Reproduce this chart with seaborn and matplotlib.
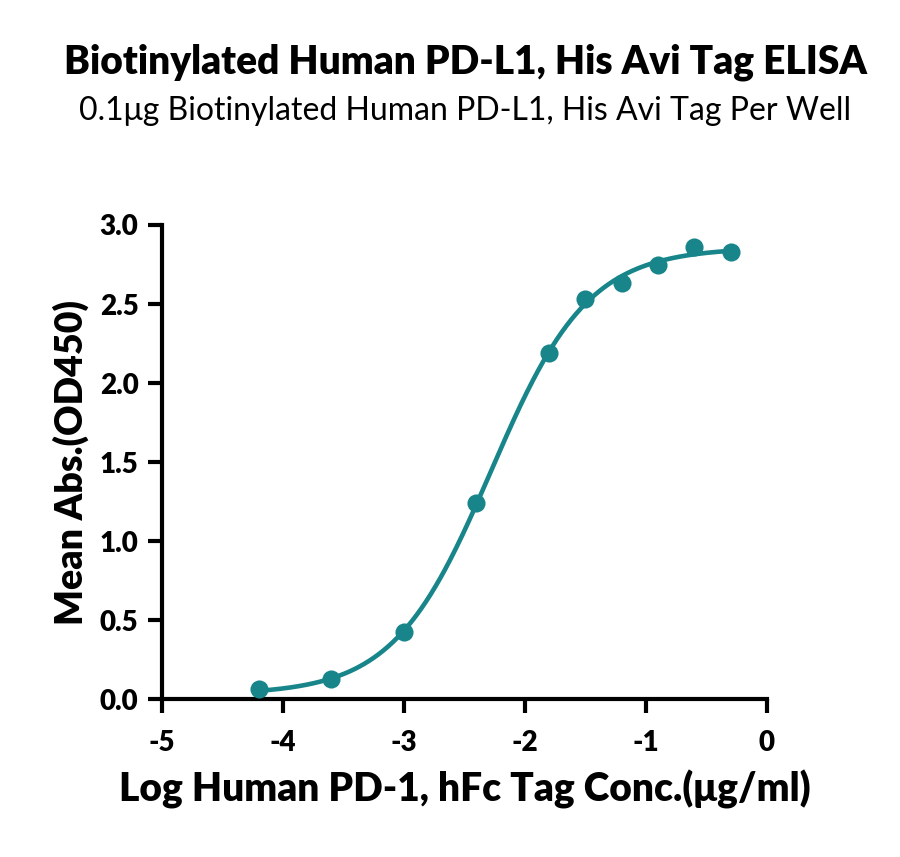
import numpy as np
import pandas as pd
import seaborn as sns
import matplotlib.pyplot as plt

# === DATA ===
log_conc = [-4.2, -3.6, -3.0, -2.4, -1.8, -1.5, -1.2, -0.9, -0.6, -0.3]
mean_abs = [0.065, 0.13, 0.425, 1.24, 2.19, 2.53, 2.635, 2.75, 2.86, 2.83]

title = "Biotinylated Human PD-L1, His Avi Tag ELISA"
subtitle = "0.1\u03bcg Biotinylated Human PD-L1, His Avi Tag Per Well"
xlabel = "Log Human PD-1, hFc Tag Conc.(\u03bcg/ml)"
ylabel = "Mean Abs.(OD450)"
teal = "#17858a"

df = pd.DataFrame({"x": log_conc, "y": mean_abs})

# 4PL fit: grid over (logEC50, hill), linear least squares for bottom/top
x = np.array(log_conc)
y = np.array(mean_abs)
best = None
for ec in np.linspace(-3.5, -1.0, 251):
    for h in np.linspace(0.3, 3.0, 271):
        s = 1.0 / (1.0 + 10 ** ((ec - x) * h))
        A = np.column_stack([1 - s, s])
        coef, res, *_ = np.linalg.lstsq(A, y, rcond=None)
        err = np.sum((A @ coef - y) ** 2)
        if best is None or err < best[0]:
            best = (err, ec, h, coef)
_, ec50, hill, (bottom, top) = best
xf = np.linspace(x.min(), x.max(), 300)
yf = bottom + (top - bottom) / (1.0 + 10 ** ((ec50 - xf) * hill))
fit = pd.DataFrame({"x": xf, "y": yf})

# === PLOT ===
sns.set_theme(style="ticks", rc={
    "text.color": "black", "axes.labelcolor": "black",
    "xtick.color": "black", "ytick.color": "black",
    "axes.edgecolor": "black",
})
plt.rcParams["font.family"] = ["Lato", "DejaVu Sans"]

fig = plt.figure(figsize=(9, 8.57), dpi=100)
ax = fig.add_axes([0.18, 0.1838, 0.672, 0.5537])

sns.lineplot(data=fit, x="x", y="y", ax=ax, color=teal, linewidth=3.3)
sns.scatterplot(data=df, x="x", y="y", ax=ax, color=teal, s=170,
                edgecolor=teal, linewidth=0, zorder=3)

ax.set_xlim(-5, 0)
ax.set_ylim(0, 3.0)
ax.set_xticks([-5, -4, -3, -2, -1, 0])
ax.set_xticklabels(["-5", "-4", "-3", "-2", "-1", "0"])
ax.set_yticks([0, 0.5, 1.0, 1.5, 2.0, 2.5, 3.0])
ax.set_yticklabels(["0.0", "0.5", "1.0", "1.5", "2.0", "2.5", "3.0"])
for sp in ["top", "right"]:
    ax.spines[sp].set_visible(False)
for sp in ["left", "bottom"]:
    ax.spines[sp].set_linewidth(3)
ax.tick_params(axis="both", width=3, length=10, labelsize=20, pad=7)
ax.tick_params(axis="x", pad=12)
for lab in ax.get_xticklabels() + ax.get_yticklabels():
    lab.set_fontweight("heavy")

ax.set_xlabel(xlabel, fontsize=28, fontweight="heavy", labelpad=10)
ax.set_ylabel(ylabel, fontsize=27, fontweight="heavy", labelpad=8)

fig.text(0.517, 0.9145, title, ha="center", va="baseline",
         fontsize=28, fontweight="heavy")
fig.text(0.517, 0.86, subtitle, ha="center", va="baseline", fontsize=23)

fig.savefig("out.png", dpi=100)
